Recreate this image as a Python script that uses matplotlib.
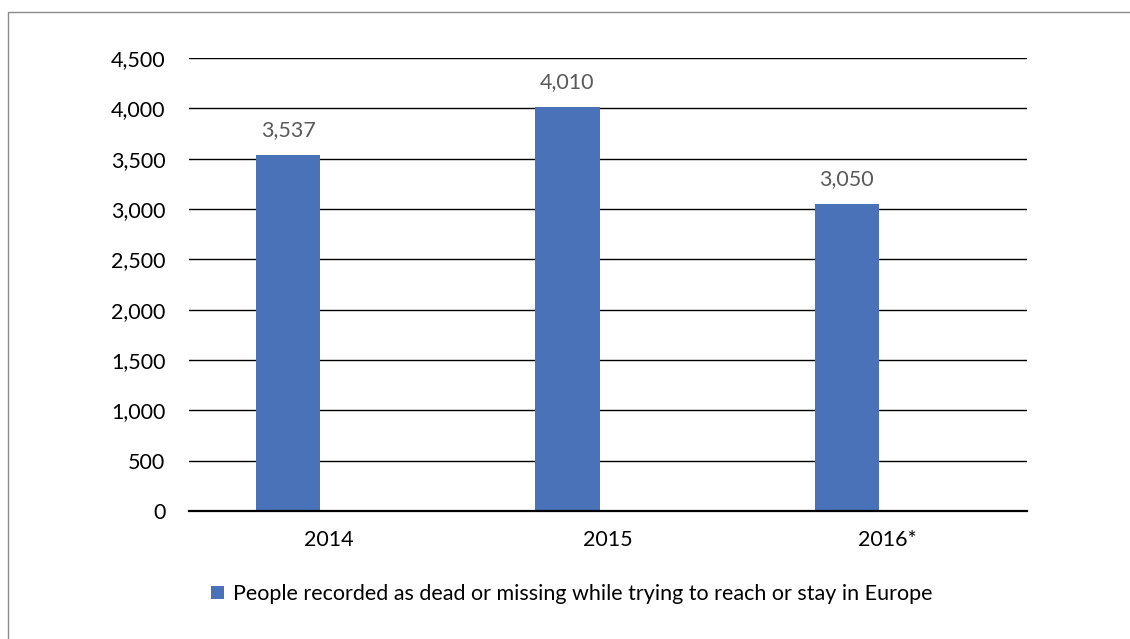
import matplotlib.pyplot as plt
from matplotlib.patches import Rectangle
from matplotlib.ticker import FuncFormatter

years = ['2014', '2015', '2016*']
deaths = [3537, 4010, 3050]
series_label = 'People recorded as dead or missing while trying to reach or stay in Europe'

plt.rcParams['font.family'] = ['Lato', 'DejaVu Sans']

fig = plt.figure(figsize=(11.3, 6.39), dpi=100)
# chart frame: only top and left edges fall inside the image
fig.patches.append(Rectangle((8 / 1130, -0.1), 1.2, (639 - 12) / 639 + 0.1,
                             transform=fig.transFigure, fill=False,
                             edgecolor='#8c8c8c', linewidth=1.0))

ax = fig.add_axes([189 / 1130, 1 - 511 / 639, (1027 - 189) / 1130, (511 - 58) / 639])

x = list(range(len(years)))
bar_x = [i - 0.145 for i in x]
bars = ax.bar(bar_x, deaths, width=0.23, color='#4A72B8', zorder=3, label=series_label)

for b, v in zip(bars, deaths):
    ax.annotate(f'{v:,}', (b.get_x() + b.get_width() / 2, v), xytext=(0, 11),
                textcoords='offset points', ha='center', va='bottom',
                fontsize=15.5, color='#595959')

ax.set_xlim(-0.5, 2.5)
ax.set_ylim(0, 4500)
ax.set_yticks(range(0, 4501, 500))
ax.yaxis.set_major_formatter(FuncFormatter(lambda v, p: f'{int(v):,}'))
ax.set_xticks(x)
ax.set_xticklabels(years)
ax.tick_params(axis='both', length=0, labelsize=15.5, colors='black')
ax.tick_params(axis='y', pad=17)
ax.tick_params(axis='x', pad=14)
ax.grid(axis='y', color='black', linewidth=1.0, zorder=0)

for s in ['top', 'right', 'left']:
    ax.spines[s].set_visible(False)
ax.spines['bottom'].set_linewidth(1.6)
ax.spines['bottom'].set_zorder(4)

fig.legend(handles=[bars], labels=[series_label], loc='center',
           bbox_to_anchor=(572 / 1130, 1 - 594 / 639), frameon=False,
           fontsize=15.5, handlelength=0.6, handleheight=0.6, handletextpad=0.4)

fig.savefig('out.png', dpi=100)
